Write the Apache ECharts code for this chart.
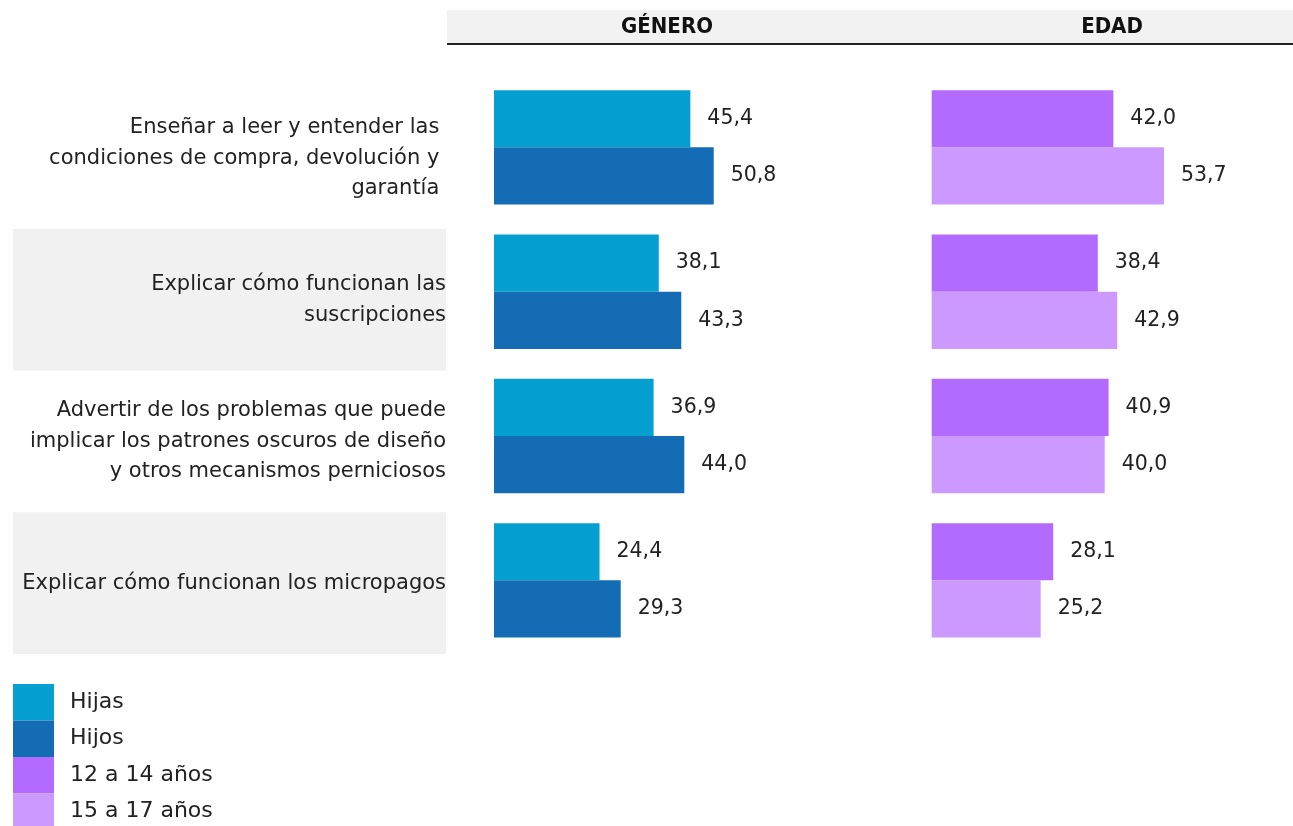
<!DOCTYPE html>
<html>
<head>
<meta charset="utf-8">
<script src="https://cdn.jsdelivr.net/npm/echarts@6/dist/echarts.min.js"></script>
<style>html,body{margin:0;padding:0;background:#fff}#c{width:1293px;height:826px}</style>
</head>
<body>
<div id="c"></div>
<script>
const categories = [
  'Enseñar a leer y entender las \ncondiciones de compra, devolución y \ngarantía ',
  'Explicar cómo funcionan las\nsuscripciones',
  'Advertir de los problemas que puede\nimplicar los patrones oscuros de diseño\ny otros mecanismos perniciosos',
  'Explicar cómo funcionan los micropagos'
];
const panelTitles = ['GÉNERO', 'EDAD'];
const hijas = [45.4, 38.1, 36.9, 24.4];
const hijos = [50.8, 43.3, 44.0, 29.3];
const edad12a14 = [42.0, 38.4, 40.9, 28.1];
const edad15a17 = [53.7, 42.9, 40.0, 25.2];
const seriesNames = ['Hijas', 'Hijos', '12 a 14 años', '15 a 17 años'];
const colors = ['#05A0D1', '#146CB4', '#B36BFF', '#CC99FF'];

const FONT = 'DejaVu Sans';
const fmt = p => p.value.toFixed(1).replace('.', ',');

function barSeries(name, data, idx, color) {
  return {
    name: name, type: 'bar', data: data,
    xAxisIndex: idx, yAxisIndex: idx,
    barWidth: 57.2, barGap: '0%',
    itemStyle: { color: color },
    label: { show: true, position: 'right', distance: 17, formatter: fmt,
      fontFamily: FONT, fontSize: 20.5, color: '#222' },
    emphasis: { disabled: true }, animation: false
  };
}

const chart = echarts.init(document.getElementById('c'));
chart.setOption({
  animation: false,
  color: colors,
  graphic: [
    { type: 'rect', shape: { x: 447, y: 10, width: 846, height: 33 }, style: { fill: '#f2f2f2' }, z: 0 },
    { type: 'rect', shape: { x: 447, y: 43, width: 846, height: 2 }, style: { fill: '#222' }, z: 0 },
    { type: 'text', x: 667, y: 27, style: { text: panelTitles[0], fontFamily: 'DejaVu Sans Condensed', fontWeight: 'bold', fontSize: 22, fill: '#111', textAlign: 'center', textVerticalAlign: 'middle' }, z: 1 },
    { type: 'text', x: 1112, y: 27, style: { text: panelTitles[1], fontFamily: 'DejaVu Sans Condensed', fontWeight: 'bold', fontSize: 22, fill: '#111', textAlign: 'center', textVerticalAlign: 'middle' }, z: 1 }
  ],
  legend: {
    orient: 'vertical', left: 13, top: 684, height: 200, padding: 0,
    itemWidth: 41, itemHeight: 36.5, itemGap: 0,
    icon: 'rect', selectedMode: false, data: seriesNames,
    itemStyle: { borderWidth: 0 },
    textStyle: { fontFamily: FONT, fontSize: 22, color: '#222', padding: [0, 0, 0, 11] }
  },
  grid: [
    { left: 494, width: 259.5, top: 75.2, height: 577.3 },
    { left: 931.7, width: 259.5, top: 75.2, height: 577.3 },
    { left: 13, width: 433, top: 87.5, height: 566.4 }
  ],
  xAxis: [
    { type: 'value', gridIndex: 0, min: 0, max: 60, show: false },
    { type: 'value', gridIndex: 1, min: 0, max: 60, show: false },
    { type: 'value', gridIndex: 2, min: 0, max: 1, show: false }
  ],
  yAxis: [
    { type: 'category', gridIndex: 0, data: categories, inverse: true,
      axisLine: { show: false }, axisTick: { show: false }, axisLabel: { show: false } },
    { type: 'category', gridIndex: 1, data: categories, inverse: true,
      axisLine: { show: false }, axisTick: { show: false }, axisLabel: { show: false } },
    { type: 'category', gridIndex: 2, data: categories, inverse: true, z: 0, position: 'right',
      axisLine: { show: false }, axisTick: { show: false },
      axisLabel: { inside: true, margin: 0, fontFamily: FONT, fontSize: 21, color: '#222', lineHeight: 30.5 },
      splitArea: { show: true, areaStyle: { color: ['#ffffff', '#f1f1f1'] } } }
  ],
  series: [
    barSeries(seriesNames[0], hijas, 0, colors[0]),
    barSeries(seriesNames[1], hijos, 0, colors[1]),
    barSeries(seriesNames[2], edad12a14, 1, colors[2]),
    barSeries(seriesNames[3], edad15a17, 1, colors[3])
  ]
});
</script>
</body>
</html>
